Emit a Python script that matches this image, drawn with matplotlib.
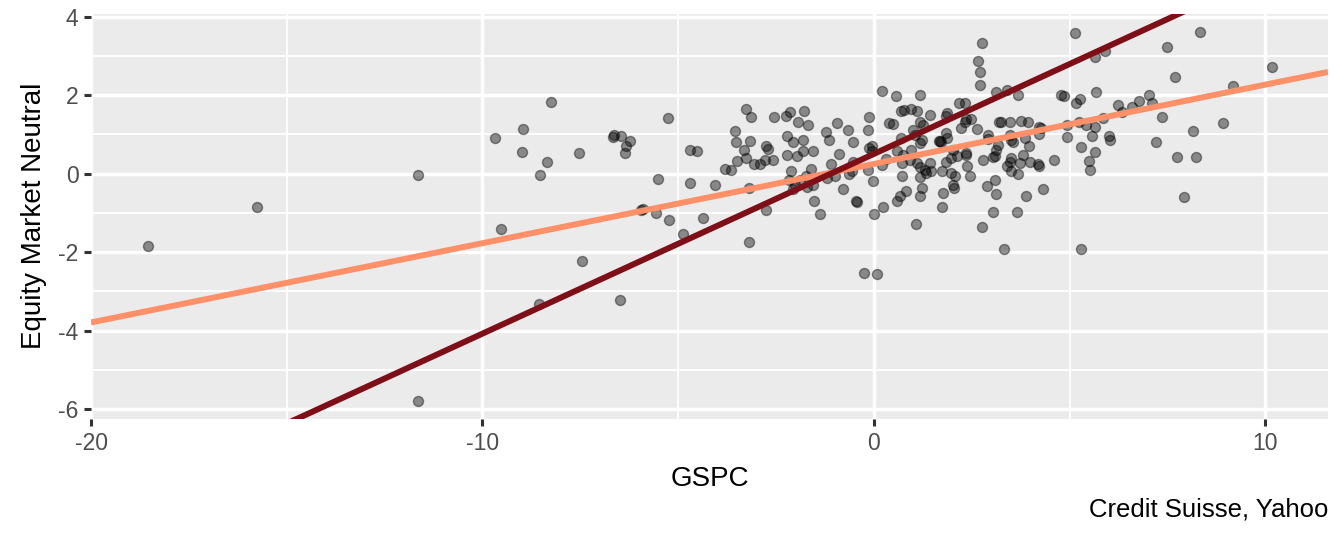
import matplotlib
matplotlib.use('Agg')
import matplotlib.pyplot as plt
import numpy as np

plt.rcParams['font.family'] = ['Liberation Sans', 'DejaVu Sans']
plt.rcParams['axes.unicode_minus'] = False

# monthly returns (GSPC vs Equity Market Neutral)
gspc = [
    -18.55, -15.75, -11.65, -11.64,
    -9.69, -8.96, -8.24, -9.00, -8.36, -8.54, -7.53, -6.65, -6.67, -6.46, -6.23, -6.33, -6.36,
    -5.25, -4.71, -4.52, -5.52, -4.71, -4.06, -9.52, -5.90, -5.95, -5.56, -5.23, -4.37, -4.88,
    -7.46, -8.56, -6.48,
    -3.27, -3.15, -2.55, -2.24, -2.14, -1.79, -1.93, -1.68, -0.94, -0.65, -0.13, -0.14, -1.23,
    -1.16, -0.53, -3.55, -3.53, -3.16, -3.32, -3.27, -3.50, -3.80, -3.65, -3.07, -2.91, -2.78,
    -2.75, -2.70, -2.57, -2.21, -2.06, -1.80, -1.82, -1.96, -2.23, -1.55, -0.89, -1.10, -0.53,
    -0.57, -0.63, -0.12, -0.05, -0.16, -2.12, -1.60, -1.73, -2.16, -2.02, -2.06, -1.89, -1.72,
    -1.55, -1.20, -0.99, -3.18, -2.75, -1.54, -1.38, -0.79, -0.45, -0.44, -0.02, 0.01, -3.20,
    0.20, 0.56, 1.17, 0.69, 0.78, 0.96, 1.09, 1.43, 0.38, 0.48, 1.19, 1.26, 1.86, 1.84,
    2.18, 2.32, 2.36, 2.47, 2.23, 2.32, 2.64, 3.19, 1.00, 1.05, 0.68, 1.22, 1.17, 1.66, 1.71,
    1.85, 1.87, 2.01, 2.36, 2.35, 2.13, 2.92, 2.92, 3.16, 3.11, 3.04, -0.06, 0.20, 0.31, 0.58,
    0.75, 0.96, 0.92, 0.73, 1.09, 1.17, 1.30, 1.34, 1.47, 1.73, 1.43, 1.85, 1.98, 2.39, 1.98,
    2.07, 2.45, 2.79, 3.09, 1.70,
    0.72, 1.17, 0.82, 0.66, 0.58, 1.24, 1.17, 1.77, 2.02, 2.04, 2.90, 3.13, 0.24, 1.73, 1.07,
    3.04, 2.77, 0.07, -0.25, 3.32,
    3.13, 3.39, 3.69, 4.79, 4.85, 5.15, 5.26, 5.68, 6.23, 3.25, 3.48, 3.77, 3.94, 4.23, 4.28,
    4.22, 4.92, 5.24, 5.43, 5.64, 5.85, 4.92, 5.58, 6.00, 6.02, 3.47, 3.51, 3.55, 3.85, 3.96,
    3.09, 3.81, 3.51, 3.47, 3.72, 3.98, 4.19, 4.23, 3.39, 3.51, 3.69, 4.60, 5.30, 5.66, 5.49,
    5.53, 3.89, 4.32, 3.66, 5.30,
    2.77, 2.66, 2.72, 2.72, 5.13, 5.64, 5.91,
    8.34, 7.48, 7.68, 10.17, 9.18, 7.04, 6.77, 7.11, 6.60, 6.34, 7.36, 8.93, 8.15, 7.20, 7.75,
    8.24, 7.93,
]
emn = [
    -1.83, -0.85, -0.03, -5.78,
    0.90, 1.15, 1.82, 0.56, 0.29, -0.04, 0.53, 0.99, 0.93, 0.95, 0.84, 0.70, 0.54,
    1.42, 0.61, 0.58, -0.13, -0.24, -0.30, -1.41, -0.90, -0.92, -1.00, -1.17, -1.14, -1.54,
    -2.23, -3.33, -3.22,
    1.65, 1.44, 1.44, 1.47, 1.56, 1.60, 1.32, 1.23, 1.30, 1.11, 1.44, 1.11, 1.07,
    0.87, 0.82, 1.08, 0.82, 0.83, 0.61, 0.41, 0.33, 0.12, 0.10, 0.25, 0.24, 0.34,
    0.71, 0.64, 0.34, 0.97, 0.81, 0.86, 0.59, 0.44, 0.48, 0.59, 0.50, 0.24, 0.31,
    0.06, -0.01, 0.65, 0.71, 0.10, 0.06, 0.13, -0.05, -0.15, -0.28, -0.39, -0.15, -0.34,
    -0.28, -0.11, -0.07, -0.36, -0.92, -0.69, -1.03, -0.39, -0.69, -0.73, -0.19, -1.03, -1.74,
    2.12, 1.97, 2.01, 1.59, 1.63, 1.65, 1.60, 1.50, 1.29, 1.27, 1.31, 1.25, 1.54, 1.48,
    1.80, 1.81, 1.40, 1.40, 1.16, 1.31, 1.15, 1.31, 1.12, 0.99, 0.91, 0.87, 0.78, 0.84, 0.82,
    1.04, 0.91, 0.61, 0.54, 0.48, 0.44, 0.99, 0.88, 0.74, 0.61, 0.42, 0.57, 0.23, 0.38, 0.57,
    0.48, 0.61, 0.36, 0.27, 0.27, 0.17, 0.10, 0.03, 0.08, 0.08, 0.27, 0.31, 0.40, 0.20, 0.02,
    -0.07, -0.07, 0.36, -0.15, 0.84,
    -0.07, -0.08, -0.45, -0.58, -0.70, -0.36, -0.58, -0.49, -0.28, -0.36, -0.32, -0.51, -0.86, -0.86, -1.28,
    -0.98, -1.36, -2.55, -2.53, -1.91,
    2.09, 2.14, 2.01, 2.01, 1.99, 1.81, 1.91, 2.09, 1.76, 1.32, 1.32, 1.35, 1.33, 1.20, 1.16,
    1.02, 1.25, 1.33, 1.25, 1.20, 1.43, 0.93, 0.97, 0.97, 0.85, 0.99, 0.87, 0.82, 0.91, 0.70,
    0.44, 0.48, 0.40, 0.31, 0.27, 0.31, 0.25, 0.20, 0.19, 0.08, 0.00, 0.34, 0.68, 0.55, 0.33,
    0.10, -0.58, -0.38, -0.98, -1.92,
    3.33, 2.88, 2.58, 2.27, 3.58, 2.98, 3.13,
    3.61, 3.22, 2.46, 2.73, 2.24, 2.01, 1.86, 1.80, 1.70, 1.56, 1.44, 1.29, 1.10, 0.82, 0.42,
    0.42, -0.59,
]

# fitted lines (intercept, slope)
fit_light = (0.25, 0.202)
fit_dark = (0.505, 0.458)

xlim = (-20, 11.6)
ylim = (-6.25, 4.08)

fig = plt.figure(figsize=(13.44, 5.37), dpi=100)
ax = fig.add_axes([91 / 1344, 1 - 419 / 537, (1328 - 91) / 1344, (419 - 13.6) / 537])
ax.set_facecolor('#EBEBEB')
for s in ax.spines.values():
    s.set_visible(False)

ax.set_xticks([-20, -10, 0, 10])
ax.set_xticks([-15, -5, 5], minor=True)
ax.set_yticks([-6, -4, -2, 0, 2, 4])
ax.set_yticks([-5, -3, -1, 1, 3], minor=True)
ax.grid(True, which='major', color='white', linewidth=2.5)
ax.grid(True, which='minor', color='white', linewidth=1.3)
ax.set_axisbelow(True)
ax.tick_params(which='major', length=5, width=2.2, color='#333333',
               labelsize=16.5, labelcolor='#4D4D4D', pad=4)
ax.tick_params(which='minor', length=0)

ax.scatter(gspc, emn, s=52, facecolor='black', edgecolor='black',
           linewidths=1.0, alpha=0.42, zorder=3)

xs = np.array(xlim)
ax.plot(xs, fit_light[0] + fit_light[1] * xs, color='#FF9068', linewidth=4.3, zorder=4,
        solid_capstyle='butt')
ax.plot(xs, fit_dark[0] + fit_dark[1] * xs, color='#7F0F17', linewidth=4.3, zorder=5,
        solid_capstyle='butt')

ax.set_xlim(xlim)
ax.set_ylim(ylim)
ax.set_xlabel('GSPC', fontsize=20, labelpad=8)
ax.set_ylabel('Equity Market Neutral', fontsize=20, labelpad=8)
fig.text(1328 / 1344, 1 - 510 / 537, 'Credit Suisse, Yahoo', ha='right', va='center',
         fontsize=18.5)

fig.savefig('out.png', dpi=100)
plt.close()
